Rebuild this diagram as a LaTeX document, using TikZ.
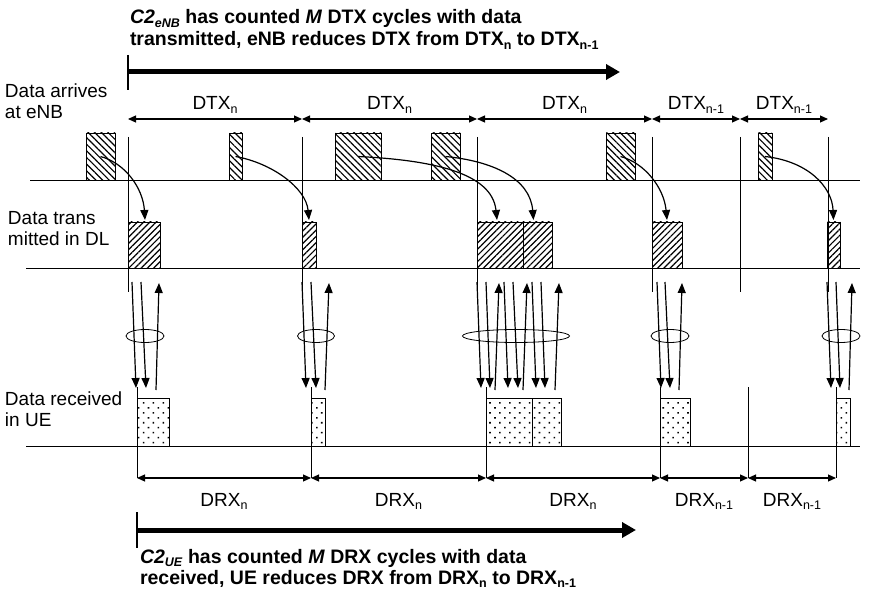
\documentclass[tikz,border=0pt]{standalone}
\usepackage{fontspec}
\setmainfont{Liberation Sans}
\usetikzlibrary{arrows.meta,patterns.meta,calc,shapes.geometric}
\newcommand\sbx[1]{\raisebox{-0.35ex}{\fontsize{12.5}{12.5}\selectfont #1}}
\begin{document}
\begin{tikzpicture}[x=1pt,y=-1pt,
  every node/.style={inner sep=0pt,outer sep=0pt},
  txt/.style={font=\fontsize{19}{21}\selectfont},
  ttl/.style={font=\fontsize{19.5}{22}\selectfont\bfseries},
  thinl/.style={line width=0.8pt},
  dim/.style={line width=1.1pt,{Triangle[length=8pt,width=7pt]}-{Triangle[length=8pt,width=7pt]}},
  pkt/.style={draw,line width=0.8pt,anchor=south west},
  enbp/.style={pkt,minimum height=47pt,pattern={Lines[angle=-45,distance=4.7pt,line width=1.2pt]}},
  dlp/.style={pkt,minimum height=46pt,pattern={Lines[angle=45,distance=4.4pt,line width=1.2pt]}},
  uep/.style={pkt,minimum height=48pt,pattern={Dots[angle=45,distance=7pt,radius=1.1pt]}},
  carrow/.style={line width=1.2pt,-{Triangle[length=10pt,width=8pt]}},
  sig/.style={line width=1.2pt,-{Triangle[length=10pt,width=8pt]}},
  big/.style={line width=5pt,-{Triangle[length=14pt,width=15pt]}},
  grp/.style={draw,ellipse,line width=0.8pt}]
\useasboundingbox (0,0) rectangle (870,596);

% ---- title (top)
\node[ttl,anchor=base west] (t1) at (130,24) {\textit{C2}\sbx{\textit{eNB}} has counted \textit{M} DTX cycles with data};
\node[ttl,anchor=base west] (t2) at (130,46) {transmitted, eNB reduces DTX from DTX\sbx{n} to DTX\sbx{n-1}};
\coordinate (A0t) at (128,55); \coordinate (A0b) at (128,90);
\coordinate (A0) at (128,72); \coordinate (A1) at (620,72);
\draw[line width=2pt] (A0t) -- (A0b);
\draw[big] (A0) -- (A1);

% ---- row labels
\node[txt,anchor=north west,align=left] (r1) at (5,84) {Data arrives\\at eNB};
\node[txt,anchor=north west,align=left] (r2) at (8,211) {Data trans\\mitted in DL};
\node[txt,anchor=north west,align=left] (r3) at (5,392) {Data received\\in UE};

% ---- baselines
\coordinate (b1a) at (30,180); \coordinate (b1b) at (860,180);
\coordinate (b2a) at (26,268); \coordinate (b2b) at (860,268);
\coordinate (b3a) at (26,446); \coordinate (b3b) at (860,446);
\draw[thinl] (b1a) -- (b1b);
\draw[thinl] (b2a) -- (b2b);
\draw[thinl] (b3a) -- (b3b);

% ---- DTX cycles
\foreach \i/\x in {0/128,1/302,2/477,3/652,4/740,5/828}{
  \coordinate (T\i) at (\x,119);
  \coordinate (V\i t) at (\x,137);
  \coordinate (V\i b) at (\x,292);
}
\foreach \i/\j in {0/1,1/2,2/3,3/4,4/5}{\draw[dim] (T\i) -- (T\j);}
\foreach \i in {0,1,2,3,4,5}{\draw[thinl] (V\i t) -- (V\i b);}
\node[txt,anchor=base] (L1) at (215,110) {DTX\sbx{n}};
\node[txt,anchor=base] (L2) at (389.5,110) {DTX\sbx{n}};
\node[txt,anchor=base] (L3) at (564.5,110) {DTX\sbx{n}};
\node[txt,anchor=base] (L4) at (696,110) {DTX\sbx{n-1}};
\node[txt,anchor=base] (L5) at (784,110) {DTX\sbx{n-1}};

% ---- DRX cycles
\foreach \i/\x in {0/137,1/311,2/486,3/660,4/748,5/836}{
  \coordinate (R\i) at (\x,478);
  \coordinate (W\i t) at (\x,387);
}
\foreach \i/\j in {0/1,1/2,2/3,3/4,4/5}{\draw[dim] (R\i) -- (R\j);}
\foreach \i in {0,1,2,3,4,5}{\draw[thinl] (W\i t) -- (R\i);}
\node[txt,anchor=base] (M1) at (224,506) {DRX\sbx{n}};
\node[txt,anchor=base] (M2) at (398.5,506) {DRX\sbx{n}};
\node[txt,anchor=base] (M3) at (573,506) {DRX\sbx{n}};
\node[txt,anchor=base] (M4) at (704,506) {DRX\sbx{n-1}};
\node[txt,anchor=base] (M5) at (792,506) {DRX\sbx{n-1}};

% ---- eNB packets
\node[enbp,minimum width=29pt] (e1) at (86,180) {};
\node[enbp,minimum width=13pt] (e2) at (229,180) {};
\node[enbp,minimum width=46pt] (e3) at (335,180) {};
\node[enbp,minimum width=29pt] (e4) at (431,180) {};
\node[enbp,minimum width=29pt] (e5) at (606,180) {};
\node[enbp,minimum width=14pt] (e6) at (758,180) {};

% ---- DL packets
\node[dlp,minimum width=32pt] (d1) at (128,268) {};
\node[dlp,minimum width=14pt] (d2) at (302,268) {};
\node[dlp,minimum width=46pt] (d3) at (477,268) {};
\node[dlp,minimum width=29pt] (d4) at (523,268) {};
\node[dlp,minimum width=30pt] (d5) at (652,268) {};
\node[dlp,minimum width=13pt] (d6) at (827,268) {};

% ---- UE packets
\node[uep,minimum width=32pt] (u1) at (137,446) {};
\node[uep,minimum width=14pt] (u2) at (311,446) {};
\node[uep,minimum width=46pt] (u3) at (486,446) {};
\node[uep,minimum width=29pt] (u4) at (532,446) {};
\node[uep,minimum width=30pt] (u5) at (660,446) {};
\node[uep,minimum width=14pt] (u6) at (836,446) {};

% ---- scheduling arrows eNB -> DL
\draw[carrow] (e1.center) .. controls (125,163) and (143,188) .. ($(d1.north)+(1,-2)$);
\draw[carrow] (e2.center) .. controls (272,163) and (306,188) .. ($(d2.north)+(0,-2)$);
\draw[carrow] (e3.center) .. controls (430,160) and (492,172) .. ($(d3.north)+(-3,-2)$);
\draw[carrow] (e4.center) .. controls (492,161) and (530,178) .. ($(d4.north)+(-4,-2)$);
\draw[carrow] (e5.center) .. controls (645,163) and (664,188) .. ($(d5.north)+(0,-2)$);
\draw[carrow] (e6.center) .. controls (807,161) and (832,186) .. ($(d6.north)+(0,-2)$);

% ---- HARQ groups
\node[grp,minimum width=38pt,minimum height=13pt] (g1) at (145,336) {};
\node[grp,minimum width=37pt,minimum height=13pt] (g2) at (316,336) {};
\node[grp,minimum width=107pt,minimum height=13pt] (g3) at (516,336) {};
\node[grp,minimum width=38pt,minimum height=13pt] (g4) at (670,336) {};
\node[grp,minimum width=38pt,minimum height=13pt] (g5) at (841,336) {};

% down arrows (DL -> UE)
\foreach \n/\xa/\xb in {a1/132/136,a2/141/146,a3/302/306,a4/311/316,
  a5/477/481,a6/486/490,a7/504/508,a8/513/518,a9/532/536,a10/541/545,
  a11/657/661,a12/665/670,a13/827/831,a14/836/840}{
  \coordinate (\n s) at (\xa,282); \coordinate (\n e) at (\xb,388);
  \draw[sig] (\n s) -- (\n e);
}
% up arrows (UE -> eNB feedback)
\foreach \n/\xa/\xb in {f1/156/159,f2/325/329,f3/495/499,f4/523/527,f5/555/559,
  f6/679/682,f7/849/852}{
  \coordinate (\n s) at (\xa,390); \coordinate (\n e) at (\xb,283);
  \draw[sig] (\n s) -- (\n e);
}

% ---- bottom
\coordinate (B0t) at (137,512); \coordinate (B0b) at (137,548);
\coordinate (B0) at (137,530); \coordinate (B1) at (636,530);
\draw[line width=2pt] (B0t) -- (B0b);
\draw[big] (B0) -- (B1);
\node[ttl,anchor=base west] (s1) at (140,563) {\textit{C2}\sbx{\textit{UE}} has counted \textit{M} DRX cycles with data};
\node[ttl,anchor=base west] (s2) at (140,584) {received, UE reduces DRX from DRX\sbx{n} to DRX\sbx{n-1}};
\end{tikzpicture}
\end{document}
